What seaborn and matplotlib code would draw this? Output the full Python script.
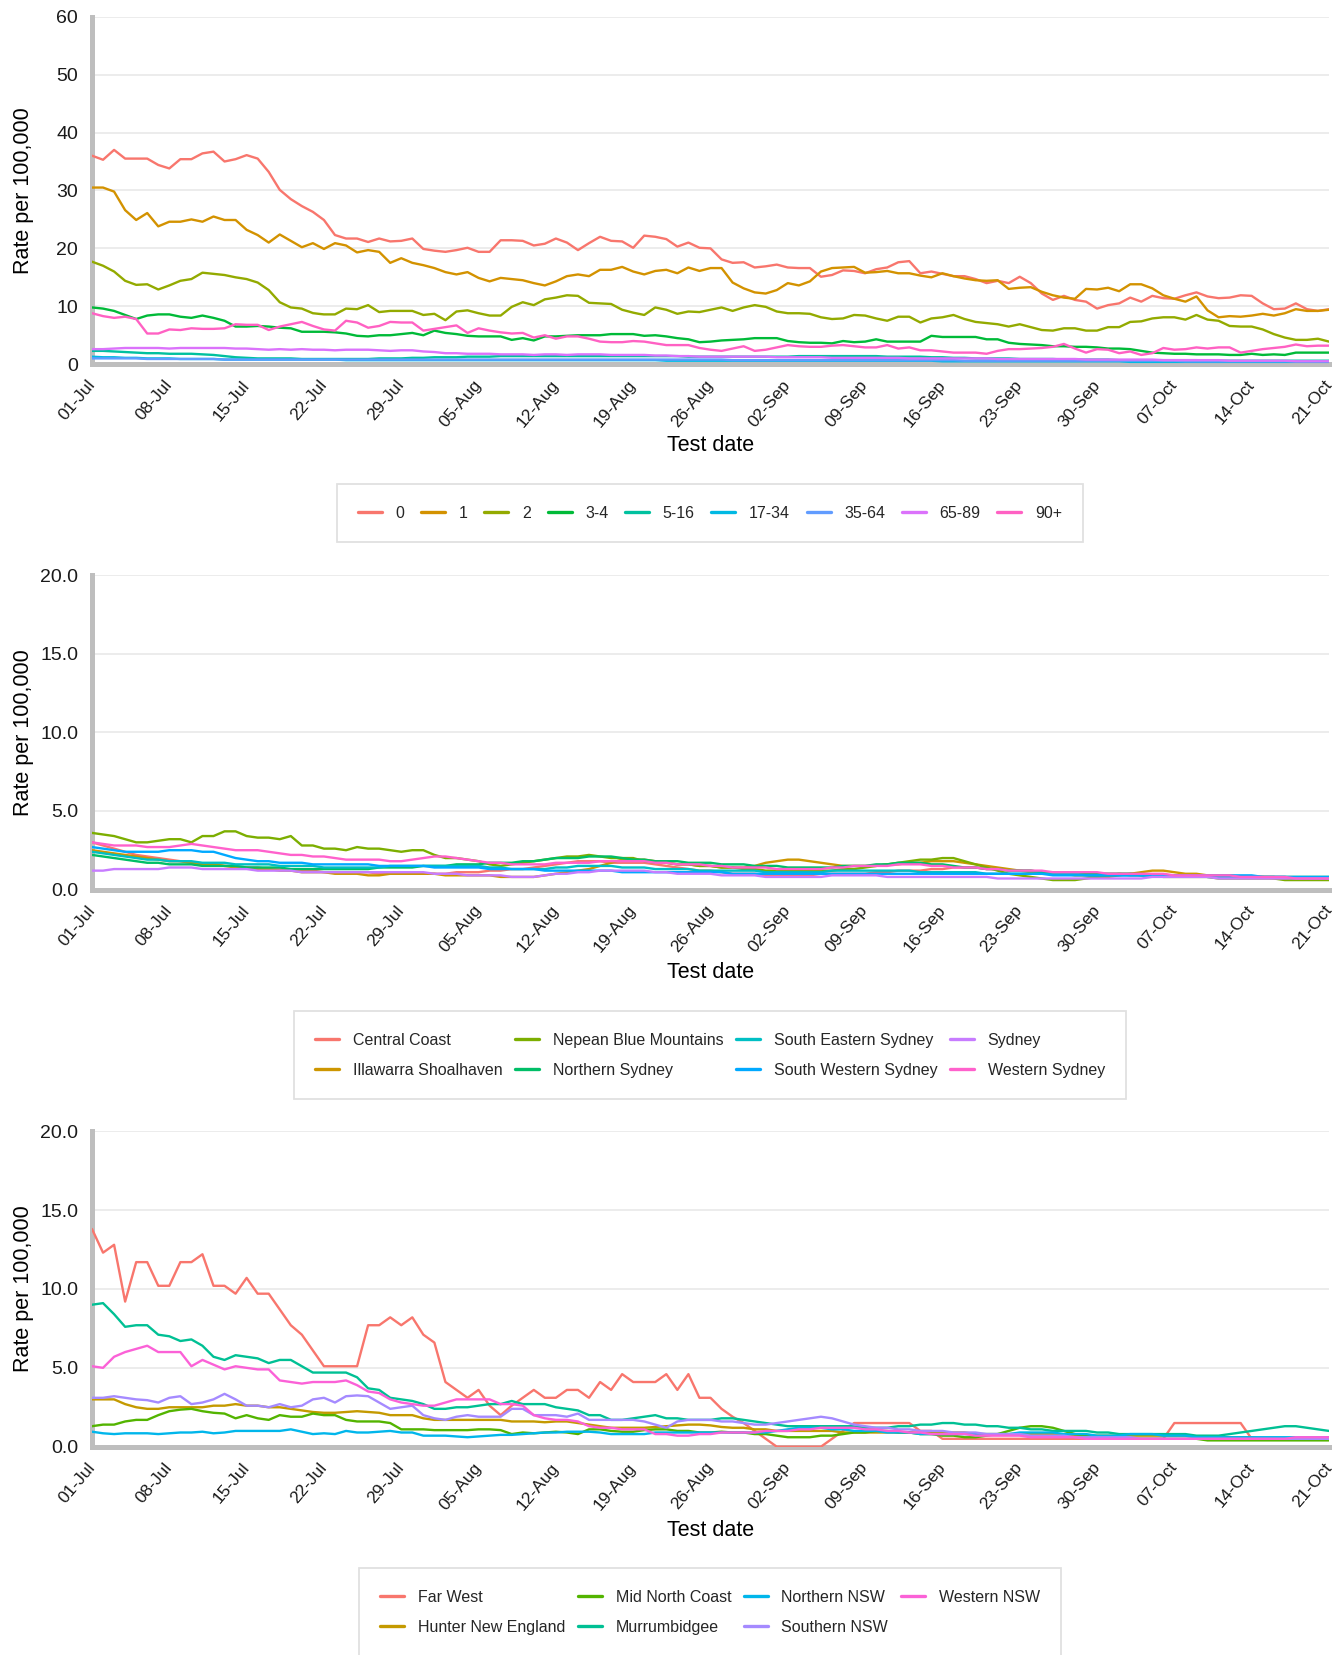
import numpy as np
import pandas as pd
import matplotlib
matplotlib.use("Agg")
import matplotlib.pyplot as plt
import matplotlib.dates as mdates
import seaborn as sns

# ---------------------------------------------------------------- data
dates = pd.date_range("2021-07-01", "2021-10-21", freq="D")

age_groups = ["0", "1", "2", "3-4", "5-16", "17-34", "35-64", "65-89", "90+"]
age_0 = [36.0, 35.3, 37.0, 35.5, 35.5, 35.5, 34.4, 33.8, 35.4, 35.4, 36.4, 36.7, 35.0, 35.4, 36.1, 35.5, 33.2, 30.1, 28.5, 27.3,
         26.3, 24.9, 22.3, 21.7, 21.7, 21.1, 21.7, 21.2, 21.3, 21.7, 19.9, 19.6, 19.4, 19.7, 20.1, 19.4, 19.4, 21.4, 21.4, 21.3,
         20.5, 20.8, 21.7, 21.0, 19.7, 20.9, 22.0, 21.3, 21.2, 20.1, 22.2, 22.0, 21.6, 20.3, 21.0, 20.1, 20.0, 18.1, 17.5, 17.6,
         16.7, 16.9, 17.2, 16.7, 16.6, 16.6, 15.1, 15.4, 16.2, 16.1, 15.7, 16.4, 16.7, 17.6, 17.8, 15.7, 16.0, 15.6, 15.2, 15.2,
         14.7, 14.0, 14.4, 14.0, 15.1, 14.0, 12.2, 11.1, 11.8, 11.1, 10.8, 9.6, 10.2, 10.5, 11.5, 10.8, 11.8, 11.4, 11.3, 11.9,
         12.4, 11.7, 11.4, 11.5, 11.9, 11.8, 10.5, 9.5, 9.6, 10.5, 9.5, 9.2, 9.5]
age_1 = [30.5, 30.5, 29.8, 26.6, 24.9, 26.1, 23.8, 24.6, 24.6, 25.0, 24.6, 25.5, 24.9, 24.9, 23.2, 22.3, 21.0, 22.4, 21.3, 20.2,
         20.9, 19.9, 20.9, 20.5, 19.3, 19.7, 19.4, 17.5, 18.3, 17.5, 17.1, 16.6, 15.9, 15.5, 15.9, 14.9, 14.3, 14.9, 14.7, 14.5,
         14.0, 13.6, 14.3, 15.2, 15.5, 15.2, 16.3, 16.3, 16.8, 16.0, 15.5, 16.1, 16.3, 15.7, 16.7, 16.1, 16.6, 16.6, 14.1, 13.1,
         12.4, 12.2, 12.8, 14.0, 13.6, 14.3, 16.0, 16.6, 16.7, 16.8, 15.8, 15.9, 16.1, 15.7, 15.7, 15.3, 15.0, 15.7, 15.2, 14.8,
         14.5, 14.4, 14.5, 13.0, 13.2, 13.3, 12.5, 11.9, 11.5, 11.3, 13.0, 12.9, 13.2, 12.6, 13.8, 13.8, 13.1, 11.9, 11.3, 10.8,
         11.7, 9.3, 8.1, 8.3, 8.2, 8.4, 8.7, 8.4, 8.8, 9.5, 9.2, 9.2, 9.4]
age_2 = [17.7, 17.0, 16.0, 14.4, 13.7, 13.8, 12.9, 13.6, 14.4, 14.7, 15.8, 15.6, 15.4, 15.0, 14.7, 14.1, 12.8, 10.7, 9.8, 9.6,
         8.8, 8.6, 8.6, 9.6, 9.5, 10.2, 9.0, 9.2, 9.2, 9.2, 8.5, 8.7, 7.6, 9.1, 9.3, 8.8, 8.4, 8.4, 9.9, 10.7,
         10.2, 11.2, 11.5, 11.9, 11.8, 10.6, 10.5, 10.4, 9.4, 8.9, 8.5, 9.8, 9.4, 8.7, 9.1, 9.0, 9.4, 9.8, 9.2, 9.8,
         10.2, 9.9, 9.1, 8.8, 8.8, 8.7, 8.1, 7.8, 7.9, 8.5, 8.4, 7.9, 7.5, 8.2, 8.2, 7.2, 7.9, 8.1, 8.5, 7.8,
         7.3, 7.1, 6.9, 6.5, 6.9, 6.4, 5.9, 5.8, 6.2, 6.2, 5.8, 5.8, 6.4, 6.4, 7.3, 7.4, 7.9, 8.1, 8.1, 7.7,
         8.5, 7.7, 7.5, 6.6, 6.5, 6.5, 6.0, 5.2, 4.6, 4.2, 4.2, 4.4, 3.9]
age_3_4 = [9.8, 9.6, 9.2, 8.5, 7.8, 8.4, 8.6, 8.6, 8.2, 8.0, 8.4, 8.0, 7.5, 6.5, 6.5, 6.6, 6.5, 6.3, 6.2, 5.6,
           5.6, 5.6, 5.5, 5.3, 4.9, 4.8, 5.0, 5.0, 5.2, 5.4, 5.0, 5.8, 5.4, 5.2, 4.9, 4.8, 4.8, 4.8, 4.2, 4.5,
           4.1, 4.8, 4.8, 4.9, 5.0, 5.0, 5.0, 5.2, 5.2, 5.2, 4.9, 5.0, 4.8, 4.5, 4.3, 3.8, 3.9, 4.1, 4.2, 4.3,
           4.5, 4.5, 4.5, 4.0, 3.8, 3.7, 3.7, 3.6, 4.0, 3.8, 3.9, 4.3, 3.9, 3.9, 3.9, 3.9, 4.9, 4.7, 4.7, 4.7,
           4.7, 4.3, 4.3, 3.7, 3.5, 3.4, 3.3, 3.1, 3.1, 3.0, 3.0, 2.9, 2.7, 2.7, 2.6, 2.3, 2.0, 1.9, 1.8, 1.8,
           1.7, 1.7, 1.7, 1.6, 1.6, 1.8, 1.6, 1.7, 1.6, 2.0, 2.0, 2.0, 2.0]
age_5_16 = [2.3, 2.3, 2.2, 2.1, 2.0, 1.9, 1.9, 1.8, 1.8, 1.8, 1.7, 1.6, 1.4, 1.2, 1.1, 1.0, 1.0, 1.0, 1.0, 0.9,
            0.9, 0.9, 0.9, 0.9, 0.9, 0.9, 1.0, 1.0, 1.0, 1.1, 1.1, 1.2, 1.2, 1.2, 1.3, 1.3, 1.3, 1.4, 1.4, 1.4,
            1.4, 1.4, 1.4, 1.4, 1.4, 1.4, 1.4, 1.4, 1.4, 1.4, 1.4, 1.4, 1.4, 1.4, 1.3, 1.3, 1.3, 1.3, 1.3, 1.3,
            1.3, 1.3, 1.3, 1.3, 1.4, 1.4, 1.4, 1.4, 1.4, 1.4, 1.4, 1.4, 1.3, 1.3, 1.3, 1.3, 1.2, 1.2, 1.1, 1.1,
            1.0, 1.0, 1.0, 1.0, 0.9, 0.9, 0.9, 0.9, 0.8, 0.8, 0.8, 0.8, 0.8, 0.7, 0.7, 0.7, 0.7, 0.7, 0.7, 0.7,
            0.7, 0.6, 0.6, 0.6, 0.6, 0.6, 0.6, 0.6, 0.6, 0.6, 0.6, 0.6, 0.6]
age_17_34 = [1.3, 1.2, 1.2, 1.1, 1.1, 1.0, 1.0, 1.0, 0.9, 0.9, 0.9, 0.9, 0.8, 0.8, 0.8, 0.8, 0.8, 0.8, 0.8, 0.8,
             0.8, 0.8, 0.8, 0.7, 0.7, 0.7, 0.7, 0.7, 0.7, 0.7, 0.7, 0.7, 0.7, 0.7, 0.7, 0.7, 0.7, 0.7, 0.7, 0.7,
             0.7, 0.7, 0.7, 0.7, 0.7, 0.7, 0.7, 0.7, 0.7, 0.7, 0.7, 0.7, 0.6, 0.6, 0.6, 0.6, 0.6, 0.6, 0.6, 0.6,
             0.6, 0.6, 0.6, 0.6, 0.6, 0.6, 0.6, 0.6, 0.6, 0.6, 0.6, 0.6, 0.6, 0.6, 0.6, 0.6, 0.6, 0.5, 0.5, 0.5,
             0.5, 0.5, 0.5, 0.5, 0.5, 0.5, 0.5, 0.5, 0.5, 0.5, 0.5, 0.5, 0.5, 0.5, 0.4, 0.4, 0.4, 0.4, 0.4, 0.4,
             0.4, 0.4, 0.4, 0.4, 0.4, 0.4, 0.4, 0.4, 0.4, 0.4, 0.4, 0.4, 0.4]
age_35_64 = [1.0, 1.0, 1.0, 1.0, 1.0, 0.9, 0.9, 0.9, 0.9, 0.9, 0.9, 0.9, 0.8, 0.8, 0.8, 0.8, 0.8, 0.8, 0.8, 0.8,
             0.8, 0.8, 0.8, 0.8, 0.8, 0.8, 0.8, 0.8, 0.8, 0.8, 0.8, 0.8, 0.8, 0.8, 0.8, 0.8, 0.8, 0.8, 0.8, 0.8,
             0.8, 0.8, 0.8, 0.8, 0.8, 0.8, 0.8, 0.8, 0.8, 0.8, 0.8, 0.8, 0.8, 0.8, 0.8, 0.8, 0.8, 0.8, 0.7, 0.7,
             0.7, 0.7, 0.7, 0.7, 0.7, 0.7, 0.7, 0.7, 0.7, 0.7, 0.7, 0.7, 0.7, 0.7, 0.7, 0.7, 0.7, 0.7, 0.7, 0.6,
             0.6, 0.6, 0.6, 0.6, 0.6, 0.6, 0.6, 0.6, 0.6, 0.6, 0.6, 0.6, 0.6, 0.6, 0.6, 0.6, 0.6, 0.6, 0.6, 0.5,
             0.5, 0.5, 0.5, 0.5, 0.5, 0.5, 0.5, 0.5, 0.5, 0.5, 0.5, 0.5, 0.5]
age_65_89 = [2.6, 2.6, 2.7, 2.8, 2.8, 2.8, 2.8, 2.7, 2.8, 2.8, 2.8, 2.8, 2.8, 2.7, 2.7, 2.6, 2.5, 2.6, 2.5, 2.6,
             2.5, 2.5, 2.4, 2.5, 2.5, 2.5, 2.4, 2.3, 2.4, 2.4, 2.2, 2.1, 1.9, 1.9, 1.8, 1.8, 1.8, 1.7, 1.7, 1.7,
             1.6, 1.7, 1.7, 1.6, 1.7, 1.7, 1.7, 1.6, 1.6, 1.6, 1.6, 1.5, 1.5, 1.4, 1.4, 1.3, 1.3, 1.3, 1.3, 1.3,
             1.3, 1.3, 1.2, 1.2, 1.2, 1.2, 1.2, 1.1, 1.1, 1.1, 1.1, 1.1, 1.1, 1.1, 1.0, 1.0, 1.0, 1.0, 1.0, 1.0,
             1.0, 1.0, 0.9, 0.9, 0.9, 0.9, 0.9, 0.9, 0.9, 0.9, 0.8, 0.8, 0.8, 0.8, 0.8, 0.8, 0.8, 0.7, 0.7, 0.7,
             0.7, 0.7, 0.7, 0.6, 0.6, 0.6, 0.6, 0.6, 0.6, 0.5, 0.5, 0.5, 0.5]
age_90_plus = [8.8, 8.3, 8.0, 8.2, 7.8, 5.3, 5.3, 6.0, 5.9, 6.2, 6.1, 6.1, 6.2, 6.9, 6.8, 6.8, 5.9, 6.5, 6.9, 7.3,
               6.6, 6.0, 5.8, 7.5, 7.2, 6.3, 6.6, 7.3, 7.2, 7.2, 5.8, 6.1, 6.4, 6.7, 5.4, 6.2, 5.8, 5.5, 5.3, 5.4,
               4.6, 5.0, 4.4, 4.8, 4.8, 4.4, 3.9, 3.8, 3.8, 4.0, 3.9, 3.6, 3.3, 3.3, 3.3, 2.8, 2.5, 2.3, 2.7, 3.1,
               2.3, 2.5, 2.9, 3.3, 3.1, 3.0, 3.0, 3.2, 3.3, 3.1, 2.9, 2.9, 3.3, 2.7, 2.9, 2.4, 2.4, 2.2, 2.0, 2.0,
               2.0, 1.8, 2.3, 2.6, 2.6, 2.7, 2.8, 3.0, 3.5, 2.7, 2.0, 2.6, 2.5, 1.9, 2.2, 1.6, 1.9, 2.8, 2.5, 2.6,
               2.9, 2.7, 2.9, 2.9, 2.0, 2.3, 2.6, 2.8, 3.0, 3.4, 3.1, 3.2, 3.2]

metro_districts = ["Central Coast", "Illawarra Shoalhaven", "Nepean Blue Mountains", "Northern Sydney",
                   "South Eastern Sydney", "South Western Sydney", "Sydney", "Western Sydney"]
central_coast = [3.0, 2.8, 2.6, 2.4, 2.2, 2.1, 2.0, 1.9, 1.8, 1.7, 1.6, 1.6, 1.5, 1.5, 1.4, 1.4, 1.3, 1.3, 1.2, 1.2,
                 1.2, 1.1, 1.1, 1.1, 1.1, 1.1, 1.0, 1.0, 1.0, 1.0, 1.0, 1.0, 1.0, 1.1, 1.1, 1.1, 1.2, 1.2, 1.3, 1.3,
                 1.4, 1.5, 1.6, 1.7, 1.8, 1.8, 1.8, 1.7, 1.7, 1.7, 1.7, 1.6, 1.5, 1.4, 1.3, 1.2, 1.2, 1.1, 1.0, 1.0,
                 1.0, 0.9, 0.9, 0.9, 0.9, 0.9, 1.0, 1.0, 1.0, 1.0, 1.0, 1.1, 1.1, 1.2, 1.2, 1.2, 1.3, 1.3, 1.4, 1.4,
                 1.4, 1.3, 1.3, 1.2, 1.2, 1.2, 1.1, 1.1, 1.1, 1.1, 1.1, 1.0, 1.0, 1.0, 0.9, 0.9, 0.9, 0.9, 0.9, 0.9,
                 0.9, 0.9, 0.8, 0.8, 0.8, 0.8, 0.8, 0.7, 0.7, 0.7, 0.7, 0.7, 0.7]
illawarra = [2.5, 2.4, 2.3, 2.2, 2.1, 2.0, 1.9, 1.8, 1.8, 1.7, 1.6, 1.6, 1.5, 1.4, 1.4, 1.3, 1.3, 1.2, 1.2, 1.1,
             1.1, 1.1, 1.0, 1.0, 1.0, 0.9, 0.9, 1.0, 1.0, 1.0, 1.0, 1.0, 0.9, 0.9, 0.9, 0.9, 0.9, 0.8, 0.8, 0.8,
             0.8, 0.9, 1.0, 1.1, 1.2, 1.3, 1.5, 1.7, 1.9, 1.9, 1.9, 1.8, 1.7, 1.6, 1.6, 1.5, 1.5, 1.4, 1.4, 1.4,
             1.5, 1.7, 1.8, 1.9, 1.9, 1.8, 1.7, 1.6, 1.5, 1.5, 1.5, 1.5, 1.6, 1.6, 1.7, 1.7, 1.8, 1.8, 1.8, 1.7,
             1.6, 1.5, 1.4, 1.3, 1.2, 1.1, 1.1, 1.0, 1.0, 0.9, 0.9, 0.8, 0.8, 0.9, 1.0, 1.1, 1.2, 1.2, 1.1, 1.0,
             1.0, 0.9, 0.9, 0.9, 0.8, 0.8, 0.8, 0.8, 0.7, 0.7, 0.7, 0.7, 0.7]
nepean = [3.6, 3.5, 3.4, 3.2, 3.0, 3.0, 3.1, 3.2, 3.2, 3.0, 3.4, 3.4, 3.7, 3.7, 3.4, 3.3, 3.3, 3.2, 3.4, 2.8,
          2.8, 2.6, 2.6, 2.5, 2.7, 2.6, 2.6, 2.5, 2.4, 2.5, 2.5, 2.2, 2.0, 2.0, 1.9, 1.8, 1.6, 1.5, 1.6, 1.7,
          1.8, 1.9, 2.0, 2.1, 2.1, 2.2, 2.1, 2.0, 2.0, 2.0, 1.8, 1.7, 1.7, 1.6, 1.6, 1.5, 1.5, 1.4, 1.4, 1.3,
          1.3, 1.2, 1.2, 1.2, 1.2, 1.2, 1.2, 1.2, 1.3, 1.3, 1.4, 1.5, 1.6, 1.7, 1.8, 1.9, 1.9, 2.0, 2.0, 1.8,
          1.6, 1.4, 1.2, 1.0, 0.9, 0.8, 0.7, 0.6, 0.6, 0.6, 0.7, 0.8, 0.9, 1.0, 1.0, 1.0, 0.9, 0.8, 0.8, 0.8,
          0.8, 0.8, 0.7, 0.7, 0.7, 0.7, 0.7, 0.7, 0.6, 0.6, 0.6, 0.6, 0.6]
northern_sydney = [2.2, 2.1, 2.0, 1.9, 1.8, 1.7, 1.7, 1.6, 1.6, 1.6, 1.5, 1.5, 1.5, 1.5, 1.4, 1.4, 1.4, 1.4, 1.3, 1.3,
                   1.3, 1.3, 1.3, 1.3, 1.3, 1.3, 1.4, 1.4, 1.4, 1.4, 1.5, 1.5, 1.5, 1.6, 1.6, 1.6, 1.7, 1.7, 1.7, 1.8,
                   1.8, 1.9, 2.0, 2.0, 2.0, 2.1, 2.1, 2.1, 2.0, 1.9, 1.9, 1.8, 1.8, 1.8, 1.7, 1.7, 1.7, 1.6, 1.6, 1.6,
                   1.5, 1.5, 1.5, 1.4, 1.4, 1.4, 1.4, 1.4, 1.5, 1.5, 1.5, 1.6, 1.6, 1.7, 1.7, 1.7, 1.6, 1.6, 1.5, 1.4,
                   1.4, 1.3, 1.3, 1.2, 1.2, 1.2, 1.1, 1.1, 1.1, 1.1, 1.0, 1.0, 1.0, 1.0, 1.0, 0.9, 0.9, 0.9, 0.9, 0.9,
                   0.9, 0.8, 0.8, 0.8, 0.8, 0.8, 0.8, 0.8, 0.8, 0.8, 0.8, 0.8, 0.8]
south_eastern_sydney = [2.4, 2.3, 2.2, 2.1, 2.0, 1.9, 1.9, 1.8, 1.8, 1.8, 1.7, 1.7, 1.7, 1.6, 1.6, 1.6, 1.6, 1.5, 1.5, 1.5,
                        1.5, 1.4, 1.4, 1.4, 1.4, 1.4, 1.4, 1.5, 1.5, 1.5, 1.5, 1.5, 1.5, 1.5, 1.5, 1.5, 1.4, 1.4, 1.3, 1.3,
                        1.3, 1.3, 1.4, 1.4, 1.5, 1.5, 1.5, 1.5, 1.4, 1.4, 1.4, 1.3, 1.3, 1.3, 1.3, 1.2, 1.2, 1.2, 1.2, 1.2,
                        1.2, 1.1, 1.1, 1.1, 1.1, 1.1, 1.1, 1.2, 1.2, 1.2, 1.2, 1.2, 1.2, 1.2, 1.2, 1.1, 1.1, 1.1, 1.1, 1.1,
                        1.1, 1.0, 1.0, 1.0, 1.0, 1.0, 1.0, 1.0, 1.0, 1.0, 0.9, 0.9, 0.9, 0.9, 0.9, 0.9, 0.9, 0.9, 0.9, 0.9,
                        0.9, 0.8, 0.8, 0.8, 0.8, 0.8, 0.8, 0.8, 0.8, 0.7, 0.7, 0.7, 0.7]
south_western_sydney = [2.7, 2.6, 2.5, 2.4, 2.4, 2.4, 2.4, 2.5, 2.5, 2.5, 2.4, 2.4, 2.2, 2.0, 1.9, 1.8, 1.8, 1.7, 1.7, 1.7,
                        1.6, 1.6, 1.6, 1.6, 1.6, 1.6, 1.5, 1.5, 1.5, 1.5, 1.5, 1.4, 1.4, 1.4, 1.4, 1.4, 1.3, 1.3, 1.3, 1.3,
                        1.3, 1.2, 1.2, 1.2, 1.2, 1.2, 1.2, 1.2, 1.1, 1.1, 1.1, 1.1, 1.1, 1.1, 1.1, 1.1, 1.1, 1.1, 1.0, 1.0,
                        1.0, 1.0, 1.0, 1.0, 1.0, 1.0, 1.0, 1.0, 1.0, 1.0, 1.0, 1.0, 1.0, 1.0, 1.0, 1.0, 1.0, 1.0, 1.0, 1.0,
                        1.0, 1.0, 1.0, 1.0, 1.0, 1.0, 1.0, 0.9, 0.9, 0.9, 0.9, 0.9, 0.9, 0.9, 0.9, 0.9, 0.9, 0.9, 0.9, 0.9,
                        0.9, 0.9, 0.9, 0.9, 0.9, 0.9, 0.8, 0.8, 0.8, 0.8, 0.8, 0.8, 0.8]
sydney = [1.2, 1.2, 1.3, 1.3, 1.3, 1.3, 1.3, 1.4, 1.4, 1.4, 1.3, 1.3, 1.3, 1.3, 1.3, 1.2, 1.2, 1.2, 1.2, 1.1,
          1.1, 1.1, 1.1, 1.1, 1.1, 1.1, 1.1, 1.1, 1.1, 1.1, 1.1, 1.0, 1.0, 1.0, 0.9, 0.9, 0.9, 0.9, 0.8, 0.8,
          0.8, 0.9, 1.0, 1.0, 1.1, 1.1, 1.2, 1.2, 1.2, 1.2, 1.2, 1.1, 1.1, 1.0, 1.0, 1.0, 1.0, 0.9, 0.9, 0.9,
          0.9, 0.8, 0.8, 0.8, 0.8, 0.8, 0.8, 0.9, 0.9, 0.9, 0.9, 0.9, 0.8, 0.8, 0.8, 0.8, 0.8, 0.8, 0.8, 0.8,
          0.8, 0.8, 0.7, 0.7, 0.7, 0.7, 0.7, 0.7, 0.7, 0.7, 0.7, 0.7, 0.7, 0.7, 0.7, 0.7, 0.8, 0.8, 0.8, 0.8,
          0.8, 0.8, 0.7, 0.7, 0.7, 0.7, 0.7, 0.7, 0.7, 0.7, 0.7, 0.7, 0.7]
western_sydney = [3.0, 2.9, 2.8, 2.8, 2.8, 2.7, 2.7, 2.7, 2.8, 2.9, 2.8, 2.7, 2.6, 2.5, 2.5, 2.5, 2.4, 2.3, 2.2, 2.2,
                  2.1, 2.1, 2.0, 1.9, 1.9, 1.9, 1.9, 1.8, 1.8, 1.9, 2.0, 2.1, 2.1, 2.0, 1.9, 1.8, 1.7, 1.7, 1.6, 1.6,
                  1.6, 1.6, 1.7, 1.7, 1.7, 1.7, 1.8, 1.8, 1.8, 1.8, 1.8, 1.7, 1.7, 1.6, 1.6, 1.6, 1.5, 1.5, 1.4, 1.4,
                  1.4, 1.4, 1.3, 1.3, 1.3, 1.3, 1.3, 1.4, 1.4, 1.5, 1.5, 1.5, 1.5, 1.6, 1.6, 1.6, 1.5, 1.5, 1.4, 1.4,
                  1.4, 1.3, 1.3, 1.2, 1.2, 1.2, 1.2, 1.1, 1.1, 1.1, 1.1, 1.1, 1.0, 1.0, 1.0, 1.0, 1.0, 1.0, 0.9, 0.9,
                  0.9, 0.9, 0.9, 0.9, 0.8, 0.8, 0.8, 0.8, 0.8, 0.7, 0.7, 0.7, 0.7]

rural_districts = ["Far West", "Hunter New England", "Mid North Coast", "Murrumbidgee",
                   "Northern NSW", "Southern NSW", "Western NSW"]
far_west = [13.8, 12.3, 12.8, 9.2, 11.7, 11.7, 10.2, 10.2, 11.7, 11.7, 12.2, 10.2, 10.2, 9.7, 10.7, 9.7, 9.7, 8.7, 7.7, 7.1,
            6.1, 5.1, 5.1, 5.1, 5.1, 7.7, 7.7, 8.2, 7.7, 8.2, 7.1, 6.6, 4.1, 3.6, 3.1, 3.6, 2.6, 2.0, 2.6, 3.1,
            3.6, 3.1, 3.1, 3.6, 3.6, 3.1, 4.1, 3.6, 4.6, 4.1, 4.1, 4.1, 4.6, 3.6, 4.6, 3.1, 3.1, 2.4,
            1.9, 1.5, 1.0, 0.5, 0.0, 0.0, 0.0, 0.0, 0.0, 0.5, 1.0, 1.5, 1.5, 1.5, 1.5, 1.5, 1.5, 1.0, 1.0, 0.5,
            0.5, 0.5, 0.5, 0.5, 0.5, 0.5, 0.5, 0.5, 0.5, 0.5, 0.5, 0.5, 0.5, 0.5, 0.5, 0.5, 0.5, 0.5, 0.5, 0.5,
            1.5, 1.5, 1.5, 1.5, 1.5, 1.5, 1.5, 0.5, 0.5, 0.5, 0.5, 0.5, 0.5, 0.5, 0.5]
hunter_new_england = [3.0, 3.0, 3.0, 2.7, 2.5, 2.4, 2.4, 2.5, 2.5, 2.5, 2.5, 2.6, 2.6, 2.7, 2.6, 2.6, 2.5, 2.5, 2.4, 2.3,
                      2.2, 2.15, 2.15, 2.2, 2.25, 2.2, 2.15, 2.0, 2.0, 2.0, 1.8, 1.7, 1.7, 1.7, 1.7, 1.7, 1.7, 1.7, 1.6, 1.6,
                      1.6, 1.55, 1.6, 1.6, 1.5, 1.4, 1.3, 1.2, 1.2, 1.2, 1.2, 1.25, 1.3, 1.35, 1.4, 1.4, 1.35, 1.25,
                      1.2, 1.2, 1.1, 1.1, 1.0, 1.0, 1.0, 1.0, 1.0, 1.0, 0.9, 0.9, 0.9, 0.9, 0.9, 0.9, 0.9, 0.9, 0.9, 0.9,
                      0.9, 0.9, 0.8, 0.8, 0.8, 0.8, 0.8, 0.8, 0.8, 0.8, 0.7, 0.7, 0.7, 0.7, 0.7, 0.7, 0.7, 0.7, 0.7, 0.7,
                      0.7, 0.7, 0.6, 0.6, 0.6, 0.6, 0.6, 0.6, 0.5, 0.5, 0.5, 0.5, 0.5, 0.5, 0.5]
mid_north_coast = [1.3, 1.4, 1.4, 1.6, 1.7, 1.7, 2.0, 2.25, 2.35, 2.4, 2.25, 2.15, 2.1, 1.8, 2.0, 1.8, 1.7, 2.0, 1.9, 1.9,
                   2.1, 2.0, 2.0, 1.7, 1.6, 1.6, 1.6, 1.5, 1.1, 1.1, 1.1, 1.05, 1.05, 1.05, 1.05, 1.1, 1.1, 1.05, 0.8, 0.9,
                   0.85, 0.9, 0.95, 0.9, 0.8, 1.1, 1.1, 1.0, 0.95, 0.95, 1.05, 1.1, 1.1, 1.0, 1.0, 0.9, 0.9, 0.95,
                   0.9, 0.9, 0.8, 0.8, 0.7, 0.6, 0.6, 0.6, 0.7, 0.7, 0.8, 0.9, 0.9, 1.0, 1.0, 0.9, 0.9, 0.8, 0.8, 0.7,
                   0.7, 0.6, 0.6, 0.7, 0.8, 1.0, 1.2, 1.3, 1.3, 1.2, 1.0, 0.8, 0.7, 0.6, 0.6, 0.6, 0.5, 0.5, 0.5, 0.5,
                   0.5, 0.5, 0.5, 0.4, 0.4, 0.4, 0.4, 0.4, 0.4, 0.4, 0.4, 0.4, 0.4, 0.4, 0.4]
murrumbidgee = [9.0, 9.1, 8.4, 7.6, 7.7, 7.7, 7.1, 7.0, 6.7, 6.8, 6.4, 5.7, 5.5, 5.8, 5.7, 5.6, 5.3, 5.5, 5.5, 5.1,
                4.7, 4.7, 4.7, 4.7, 4.4, 3.7, 3.6, 3.1, 3.0, 2.9, 2.7, 2.4, 2.4, 2.5, 2.5, 2.6, 2.7, 2.7, 2.9, 2.7,
                2.7, 2.7, 2.5, 2.4, 2.3, 2.0, 2.0, 1.7, 1.7, 1.8, 1.9, 2.0, 1.8, 1.8, 1.7, 1.7, 1.7, 1.8,
                1.8, 1.7, 1.6, 1.5, 1.4, 1.3, 1.3, 1.3, 1.3, 1.3, 1.3, 1.3, 1.2, 1.2, 1.2, 1.3, 1.3, 1.4, 1.4, 1.5,
                1.5, 1.4, 1.4, 1.3, 1.3, 1.2, 1.2, 1.1, 1.1, 1.0, 1.0, 1.0, 1.0, 0.9, 0.9, 0.8, 0.8, 0.8, 0.8, 0.8,
                0.8, 0.8, 0.7, 0.7, 0.7, 0.8, 0.9, 1.0, 1.1, 1.2, 1.3, 1.3, 1.2, 1.1, 1.0]
northern_nsw = [0.95, 0.85, 0.8, 0.85, 0.85, 0.85, 0.8, 0.85, 0.9, 0.9, 0.95, 0.85, 0.9, 1.0, 1.0, 1.0, 1.0, 1.0, 1.1, 0.95,
                0.8, 0.85, 0.8, 1.0, 0.9, 0.9, 0.95, 1.0, 0.9, 0.9, 0.7, 0.7, 0.7, 0.65, 0.6, 0.65, 0.7, 0.75, 0.75, 0.8,
                0.85, 0.9, 0.9, 0.95, 0.95, 0.95, 0.9, 0.8, 0.8, 0.8, 0.8, 0.9, 0.9, 0.9, 0.9, 0.9, 0.9, 0.9,
                0.9, 0.9, 0.9, 0.9, 1.0, 1.1, 1.2, 1.2, 1.2, 1.1, 1.1, 1.0, 1.0, 1.0, 0.9, 0.9, 0.9, 0.8, 0.8, 0.8,
                0.8, 0.8, 0.8, 0.8, 0.8, 0.8, 0.9, 0.9, 0.9, 0.9, 0.8, 0.8, 0.8, 0.7, 0.7, 0.7, 0.8, 0.8, 0.8, 0.7,
                0.7, 0.7, 0.6, 0.6, 0.6, 0.6, 0.6, 0.6, 0.6, 0.6, 0.6, 0.6, 0.6, 0.6, 0.6]
southern_nsw = [3.1, 3.1, 3.2, 3.1, 3.0, 2.95, 2.8, 3.1, 3.2, 2.7, 2.8, 3.0, 3.35, 3.0, 2.6, 2.6, 2.5, 2.7, 2.5, 2.6,
                3.0, 3.1, 2.8, 3.2, 3.25, 3.2, 2.8, 2.4, 2.5, 2.6, 2.0, 1.8, 1.7, 1.9, 2.0, 1.9, 1.9, 1.9, 2.4, 2.4,
                2.0, 2.0, 2.0, 1.9, 2.1, 1.7, 1.7, 1.7, 1.7, 1.7, 1.6, 1.4, 1.2, 1.6, 1.7, 1.7, 1.7, 1.6,
                1.6, 1.5, 1.4, 1.4, 1.5, 1.6, 1.7, 1.8, 1.9, 1.8, 1.6, 1.4, 1.3, 1.2, 1.2, 1.1, 1.1, 1.0, 1.0, 1.0,
                0.9, 0.9, 0.9, 0.8, 0.8, 0.8, 0.8, 0.7, 0.7, 0.7, 0.7, 0.6, 0.6, 0.6, 0.6, 0.6, 0.6, 0.5, 0.5, 0.5,
                0.5, 0.5, 0.5, 0.5, 0.5, 0.5, 0.5, 0.5, 0.5, 0.5, 0.5, 0.5, 0.5, 0.5, 0.5]
western_nsw = [5.1, 5.0, 5.7, 6.0, 6.2, 6.4, 6.0, 6.0, 6.0, 5.1, 5.5, 5.2, 4.9, 5.1, 5.0, 4.9, 4.9, 4.2, 4.1, 4.0,
               4.1, 4.1, 4.1, 4.2, 3.9, 3.5, 3.4, 3.0, 2.8, 2.7, 2.6, 2.6, 2.8, 3.0, 3.0, 3.0, 3.0, 2.7, 2.7, 2.6,
               2.0, 1.8, 1.7, 1.7, 1.6, 1.3, 1.2, 1.2, 1.1, 1.1, 1.1, 0.8, 0.8, 0.7, 0.7, 0.8, 0.8, 0.9,
               0.9, 0.9, 0.9, 1.0, 1.0, 1.0, 1.1, 1.1, 1.2, 1.2, 1.2, 1.2, 1.1, 1.1, 1.0, 1.0, 0.9, 0.9, 0.8, 0.8,
               0.8, 0.8, 0.7, 0.7, 0.7, 0.7, 0.7, 0.6, 0.6, 0.6, 0.6, 0.6, 0.5, 0.5, 0.5, 0.5, 0.5, 0.5, 0.5, 0.5,
               0.5, 0.5, 0.5, 0.5, 0.5, 0.5, 0.5, 0.5, 0.5, 0.5, 0.5, 0.6, 0.6, 0.6, 0.6]

tick_dates = dates[::7]

# ---------------------------------------------------------------- frames
def long_frame(groups, series):
    parts = [pd.DataFrame({"date": dates, "rate": vals, "group": name})
             for name, vals in zip(groups, series)]
    return pd.concat(parts, ignore_index=True)


age_df = long_frame(age_groups, [age_0, age_1, age_2, age_3_4, age_5_16, age_17_34,
                                 age_35_64, age_65_89, age_90_plus])
metro_df = long_frame(metro_districts, [central_coast, illawarra, nepean, northern_sydney,
                                        south_eastern_sydney, south_western_sydney, sydney, western_sydney])
rural_df = long_frame(rural_districts, [far_west, hunter_new_england, mid_north_coast, murrumbidgee,
                                        northern_nsw, southern_nsw, western_nsw])

# ggplot-style hue palettes
pal9 = ["#F8766D", "#D39200", "#93AA00", "#00BA38", "#00C19F", "#00B9E3", "#619CFF", "#DB72FB", "#FF61C3"]
pal8 = ["#F8766D", "#CD9600", "#7CAE00", "#00BE67", "#00BFC4", "#00A9FF", "#C77CFF", "#FF61CC"]
pal7 = ["#F8766D", "#C49A00", "#53B400", "#00C094", "#00B6EB", "#A58AFF", "#FB61D7"]

# ---------------------------------------------------------------- style
sns.set_style("white")
plt.rcParams["font.family"] = ["Liberation Sans", "DejaVu Sans"]

W, H = 1338, 1655
fig = plt.figure(figsize=(W / 100, H / 100), dpi=100)

x_left, x_right = 92, 1329
panels = [
    dict(df=age_df, order=age_groups, pal=pal9, top=16.7, bottom=364.2, ymax=60, step=10, fmt="{:.0f}",
         xlab_y=446, leg_top=484, ncol=9, colsp=1.05),
    dict(df=metro_df, order=metro_districts, pal=pal8, top=575.1, bottom=889.5, ymax=20, step=5, fmt="{:.1f}",
         xlab_y=972, leg_top=1011, ncol=4, colsp=0.8),
    dict(df=rural_df, order=rural_districts, pal=pal7, top=1131.2, bottom=1446.7, ymax=20, step=5, fmt="{:.1f}",
         xlab_y=1530, leg_top=1568, ncol=4, colsp=0.8),
]

for p in panels:
    height = p["bottom"] - p["top"]
    ax = fig.add_axes([x_left / W, 1 - p["bottom"] / H, (x_right - x_left) / W, height / H])
    sns.lineplot(data=p["df"], x="date", y="rate", hue="group", hue_order=p["order"],
                 palette=p["pal"], linewidth=1.7, ax=ax)

    ax.set_xlim(dates[0], dates[-1])
    ax.set_ylim(0, p["ymax"])
    yt = np.arange(0, p["ymax"] + 0.01, p["step"])
    ax.set_yticks(yt)
    ax.set_yticklabels([p["fmt"].format(v) for v in yt])
    ax.set_xticks(tick_dates)
    ax.xaxis.set_major_formatter(mdates.DateFormatter("%d-%b"))
    for lab in ax.get_xticklabels():
        lab.set_rotation(50)
        lab.set_ha("right")
        lab.set_va("center")
        lab.set_rotation_mode("anchor")

    ax.set_axisbelow(True)
    ax.yaxis.grid(True, color="#EBEBEB", linewidth=1.3)
    ax.xaxis.grid(False)
    for side in ("top", "right"):
        ax.spines[side].set_visible(False)
    for side in ("left", "bottom"):
        ax.spines[side].set_color("#BEBEBE")
        ax.spines[side].set_linewidth(3.6)
        ax.spines[side].set_zorder(1)
    ax.tick_params(axis="x", length=5, width=1, color="black", direction="out",
                   labelsize=12.5, pad=8, labelcolor="#1a1a1a")
    ax.tick_params(axis="y", length=0, pad=10, labelsize=14, labelcolor="#1a1a1a")

    ax.set_xlabel("Test date", fontsize=15.5, va="center", color="black")
    ax.xaxis.set_label_coords(0.5, (p["bottom"] - p["xlab_y"]) / height)
    ax.set_ylabel("Rate per 100,000", fontsize=15.5, va="center", color="black")
    ax.yaxis.set_label_coords((24 - x_left) / (x_right - x_left), 0.5)

    sns.move_legend(ax, "upper center", bbox_to_anchor=(710 / W, 1 - p["leg_top"] / H),
                    bbox_transform=fig.transFigure, ncol=p["ncol"], title=None, frameon=True,
                    fontsize=11.5, borderaxespad=0, borderpad=1.35, handlelength=1.5,
                    handletextpad=0.85, columnspacing=p["colsp"], labelspacing=0.95, fancybox=False)
    leg = ax.get_legend()
    leg.get_frame().set_edgecolor("#D9D9D9")
    leg.get_frame().set_linewidth(1.3)
    for line in leg.get_lines():
        line.set_linewidth(2.4)

fig.savefig("out.png", dpi=100)
